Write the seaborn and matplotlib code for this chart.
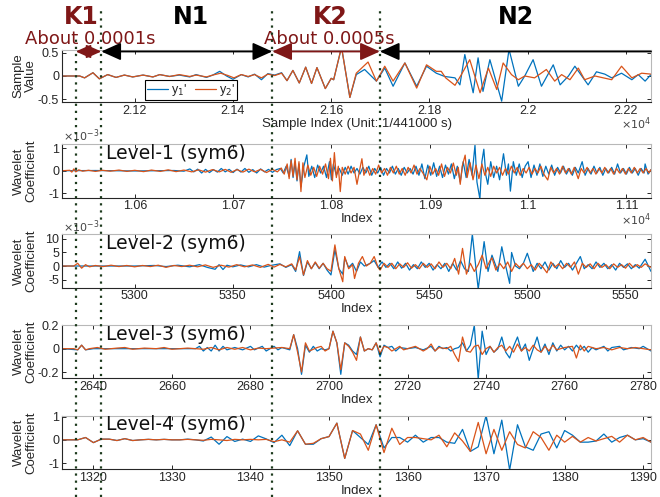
import numpy as np
import pandas as pd
import seaborn as sns
import matplotlib
matplotlib.use("Agg")
import matplotlib.pyplot as plt
from matplotlib.lines import Line2D
from matplotlib.patches import FancyArrowPatch
from matplotlib.ticker import FuncFormatter

sns.set_theme(style="ticks")
plt.rcParams["font.family"] = ["Liberation Sans", "DejaVu Sans"]
plt.rcParams["axes.unicode_minus"] = False

BLUE = "#0072BD"
ORANGE = "#D95319"
DARKRED = "#7f1717"
DOT = "#1d3a1d"

# ---- data: (index, value) ----
# top panel, raw samples
sig_y1 = [(21052, 0), (21088, 0), (21098, -0.04), (21115, 0.07), (21128, -0.06), (21145, 0.03),
          (21162, -0.03), (21179, 0.02), (21196, -0.02), (21217, 0.02), (21237, -0.02), (21251, 0.03),
          (21271, -0.01), (21291, 0.02), (21312, -0.02), (21325, 0.03), (21346, -0.03), (21359, 0.02),
          (21373, 0.10), (21387, 0.0), (21400, -0.07), (21417, 0.03), (21431, -0.02), (21444, 0.04),
          (21458, -0.08), (21471, 0.05), (21485, 0.02), (21499, 0.07), (21510, -0.10), (21522, 0.12),
          (21535, -0.15), (21548, 0.19), (21560, -0.16), (21571, 0.18), (21588, -0.27), (21600, -0.05),
          (21605, -0.08), (21621, 0.62), (21638, -0.46), (21651, 0.03), (21668, 0.14), (21692, -0.11),
          (21709, 0.17), (21726, -0.22), (21750, 0.28), (21774, -0.22), (21794, 0.21), (21814, 0.06),
          (21831, -0.01), (21852, -0.04), (21862, -0.19), (21872, 0.46), (21889, -0.36), (21899, 0.39),
          (21909, -0.33), (21923, 0.35), (21947, -0.54), (21962, 0.57), (21981, -0.22), (21994, 0.0),
          (22011, 0.35), (22028, -0.22), (22052, 0.24), (22066, -0.19), (22083, 0.0), (22096, 0.21),
          (22123, -0.19), (22140, 0.09), (22157, 0.04), (22171, -0.04), (22191, 0.06), (22212, -0.08),
          (22225, 0.03), (22239, -0.11), (22251, 0.03)]
sig_y2 = [(21052, 0), (21088, 0), (21098, -0.04), (21115, 0.07), (21128, -0.06), (21145, 0.03),
          (21162, -0.03), (21179, 0.02), (21196, -0.02), (21217, 0.02), (21237, -0.02), (21251, 0.03),
          (21271, -0.01), (21291, 0.03), (21312, -0.01), (21325, 0.02), (21346, -0.02), (21359, 0.02),
          (21375, 0.06), (21390, 0.01), (21402, -0.04), (21417, 0.03), (21431, -0.01), (21444, 0.03),
          (21458, -0.04), (21471, 0.04), (21485, 0.01), (21499, 0.06), (21510, -0.10), (21522, 0.12),
          (21535, -0.15), (21548, 0.19), (21560, -0.16), (21571, 0.18), (21588, -0.27), (21600, -0.05),
          (21605, -0.08), (21621, 0.62), (21638, -0.46), (21651, 0.06), (21675, 0.30), (21692, -0.11),
          (21709, 0.21), (21726, -0.11), (21750, 0.28), (21774, -0.26), (21794, 0.24), (21814, 0.10),
          (21824, 0.10), (21833, -0.04), (21852, -0.20), (21865, 0.03), (21882, 0.35), (21903, -0.36),
          (21920, 0.17), (21937, -0.29), (21950, 0.28), (21967, 0.03), (21981, -0.08), (21994, 0.0),
          (22014, -0.04), (22038, 0.14), (22055, -0.11), (22069, 0.03), (22086, -0.08), (22103, 0.17),
          (22116, -0.08), (22137, 0.0), (22171, -0.08), (22191, 0.21), (22212, -0.04), (22232, 0.06),
          (22251, 0.04)]

# level-1 detail coefficients (x1e-3)
lv1_y1 = [(10526, 0), (10560, 0.01), (10600, -0.01), (10640, 0.01), (10650, -0.02), (10656, 0.08),
          (10660, -0.05), (10664, 0.07), (10668, -0.10), (10672, 0.06), (10676, -0.08), (10680, 0.05),
          (10684, -0.06), (10688, 0.10), (10692, -0.05), (10696, 0.06), (10700, -0.08), (10704, 0.07),
          (10708, -0.06), (10712, 0.10), (10716, -0.07), (10720, 0.05), (10724, -0.10), (10728, 0.08),
          (10732, -0.05), (10736, 0.06), (10740, -0.07), (10744, 0.05), (10748, 0.10), (10751, -0.10),
          (10754, 0.20), (10757, -0.25), (10759, 0.50), (10761, -0.30), (10763, 0.35), (10765, -0.45),
          (10767, 0.30), (10769, -0.70), (10772, 0.20), (10775, 0.70), (10777, -0.25), (10780, 0.20),
          (10783, -0.30), (10786, 0.25), (10789, -0.10), (10792, 0.20), (10795, -0.30), (10798, 0.40),
          (10800, -0.40), (10802, 0.30), (10805, -0.20), (10808, 0.10), (10811, -0.20), (10814, 0.15),
          (10817, -0.15), (10820, 0.20), (10823, -0.10), (10826, 0.10), (10829, -0.15), (10832, 0.15),
          (10835, -0.10), (10838, 0.20), (10841, -0.20), (10844, 0.10), (10847, -0.10), (10850, 0.15),
          (10853, -0.20), (10856, 0.10), (10859, -0.10), (10862, 0.20), (10865, -0.15), (10868, 0.10),
          (10871, -0.20), (10874, 0.15), (10877, -0.10), (10880, 0.10), (10883, -0.15), (10886, 0.20),
          (10889, -0.20), (10892, 0.30), (10895, -0.35), (10898, 0.25), (10901, -0.20), (10904, 0.35),
          (10907, -0.25), (10910, 0.20), (10913, -0.30), (10916, 0.25), (10919, -0.15), (10922, 0.30),
          (10925, -0.35), (10928, 0.20), (10931, -0.50), (10934, 0.40), (10937, -0.30), (10940, 0.50),
          (10943, -0.20), (10946, 1.13), (10948, -0.50), (10951, -1.25), (10953, 0.40), (10955, 0.95),
          (10957, -0.20), (10959, -0.60), (10962, 0.40), (10965, -0.30), (10968, 0.20), (10971, -0.40),
          (10975, 0.75), (10978, -0.20), (10980, 0.30), (10982, -0.90), (10985, 0.40), (10988, -0.20),
          (10991, 0.30), (10994, -0.30), (10997, 0.20), (11000, 0.40), (11003, -0.30), (11006, 0.25),
          (11009, -0.20), (11012, 0.30), (11015, -0.25), (11018, 0.20), (11021, -0.15), (11024, 0.25),
          (11027, -0.20), (11030, 0.15), (11033, -0.10), (11036, 0.20), (11039, -0.15), (11042, 0.10),
          (11045, -0.20), (11048, 0.15), (11051, -0.10), (11055, 0.40), (11058, -0.20), (11061, 0.10),
          (11064, -0.15), (11067, 0.20), (11070, -0.10), (11073, 0.15), (11076, -0.20), (11079, 0.10),
          (11082, -0.10), (11085, 0.15), (11088, -0.15), (11091, 0.30), (11094, -0.10), (11097, 0.10),
          (11100, -0.15), (11103, 0.15), (11106, -0.10), (11109, 0.10), (11112, -0.20), (11115, 0.10),
          (11118, -0.10), (11119, 0.30), (11122, -0.15), (11125, 0.05)]
lv1_y2 = [(10526, 0), (10534, 0.02), (10536, -0.06), (10538, 0.08), (10540, -0.05), (10543, 0.04),
          (10547, -0.02), (10553, 0.02), (10560, -0.03), (10567, 0.02), (10575, -0.02), (10584, 0.03),
          (10592, -0.03), (10600, 0.02), (10609, -0.04), (10617, 0.03), (10626, -0.03), (10634, 0.04),
          (10642, -0.04), (10650, 0.03), (10658, -0.05), (10665, 0.04), (10672, -0.06), (10679, 0.05),
          (10686, -0.05), (10692, 0.06), (10698, -0.07), (10704, 0.05), (10710, -0.06), (10716, 0.07),
          (10722, -0.05), (10728, 0.06), (10734, -0.08), (10740, 0.06), (10745, -0.05), (10749, 0.12),
          (10752, -0.15), (10755, 0.30), (10757, -0.35), (10759, 0.45), (10761, -0.25), (10763, 0.55),
          (10765, -0.40), (10767, 0.40), (10769, -0.92), (10771, 0.35), (10773, -0.30), (10776, 0.25),
          (10779, -0.20), (10782, 0.15), (10785, -0.25), (10788, 0.20), (10791, -0.15), (10794, 0.30),
          (10797, -0.35), (10799, 0.55), (10801, -0.45), (10803, 0.80), (10805, -0.30), (10807, 0.20),
          (10809, -0.92), (10811, 0.15), (10814, -0.15), (10817, 0.20), (10820, -0.10), (10823, 0.15),
          (10826, -0.60), (10829, 0.10), (10831, 0.53), (10833, -0.20), (10836, 0.15), (10839, -0.20),
          (10842, 0.10), (10845, -0.15), (10848, 0.25), (10851, -0.10), (10854, 0.10), (10857, -0.20),
          (10860, 0.15), (10863, -0.10), (10866, 0.20), (10869, -0.15), (10872, 0.10), (10875, -0.20),
          (10878, 0.15), (10881, -0.10), (10884, 0.25), (10887, -0.15), (10890, 0.10), (10893, -0.10),
          (10897, -0.40), (10900, 0.20), (10903, -0.15), (10906, 0.10), (10909, -0.20), (10912, 0.30),
          (10915, -0.25), (10918, 0.15), (10921, -0.10), (10924, 0.34), (10927, -0.20), (10929, 0.15),
          (10931, -0.60), (10933, 0.20), (10936, 0.69), (10938, -0.30), (10941, 0.35), (10944, -0.40),
          (10947, 0.25), (10950, -0.35), (10953, 0.30), (10956, -0.20), (10959, 0.15), (10962, -0.25),
          (10965, 0.20), (10968, -0.10), (10971, 0.15), (10974, -0.20), (10977, 0.10), (10980, -0.15),
          (10983, 0.20), (10986, -0.10), (10989, 0.15), (10992, -0.20), (10995, 0.10), (10998, -0.10),
          (11001, 0.15), (11004, -0.15), (11007, 0.10), (11010, -0.10), (11013, 0.20), (11016, -0.15),
          (11020, -0.41), (11023, 0.15), (11026, -0.10), (11029, 0.10), (11032, -0.15), (11035, 0.20),
          (11038, -0.10), (11041, 0.10), (11044, -0.15), (11047, 0.15), (11051, -0.35), (11054, 0.10),
          (11057, -0.10), (11060, 0.15), (11063, -0.10), (11066, 0.10), (11069, -0.15), (11072, 0.10),
          (11075, -0.10), (11078, 0.15), (11081, -0.10), (11084, 0.10), (11087, -0.15), (11090, 0.10),
          (11093, -0.10), (11096, 0.10), (11099, -0.15), (11102, 0.10), (11105, -0.10), (11108, 0.15),
          (11111, -0.10), (11114, 0.10), (11117, -0.10), (11120, 0.10), (11123, -0.10), (11125, 0.05)]

# level-2 detail coefficients (x1e-3)
lv2_y1 = [(5263, 0), (5300, 0), (5310, 0.2), (5316, -0.2), (5322, 0.3), (5328, -0.3), (5333, 0.5),
          (5337, -0.5), (5341, -1.2), (5343, 0.5), (5345, -1.3), (5347, 0.3), (5350, -0.3), (5354, 0.4),
          (5358, -0.3), (5362, 0.5), (5366, -0.4), (5370, 0.3), (5374, 0.8), (5377, -0.5), (5380, 0.5),
          (5382, -2.0), (5384, 5.3), (5386, -3.5), (5388, 1.5), (5390, -1.0), (5392, 1.2), (5394, -1.0),
          (5396, 1.0), (5398, -1.5), (5400, -3.3), (5402, 6.0), (5404, -1.0), (5406, -3.0), (5407, 3.0),
          (5409, -0.5), (5411, 1.0), (5413, -2.0), (5415, 1.5), (5417, 0.0), (5420, 1.0), (5422, 2.0),
          (5424, -0.5), (5426, 1.5), (5428, -0.5), (5430, 1.0), (5432, -1.0), (5434, 1.5), (5436, -0.8),
          (5438, 1.0), (5440, -1.5), (5442, 0.5), (5444, -1.0), (5446, 1.5), (5448, -0.5), (5450, 1.0),
          (5452, -1.5), (5454, 0.5), (5456, -1.0), (5458, 1.0), (5460, -2.0), (5462, 1.0), (5464, -1.5),
          (5466, 2.0), (5468, -1.0), (5470, -2.0), (5472, 11.8), (5474, -2.0), (5475, -8.5), (5478, 9.0),
          (5480, -2.0), (5482, 4.0), (5485, -2.0), (5487, 7.1), (5489, 0.0), (5491, -6.4), (5492, 5.0),
          (5494, 0.0), (5496, -1.0), (5498, 1.0), (5500, 4.7), (5503, -2.0), (5505, 1.0), (5507, -1.0),
          (5509, 1.5), (5511, -1.5), (5513, 1.0), (5515, -1.0), (5517, 2.0), (5519, -0.5), (5521, 1.0),
          (5523, -1.5), (5525, 1.0), (5527, 3.5), (5529, -1.0), (5531, 0.5), (5533, -1.0), (5535, 1.5),
          (5537, -0.5), (5539, 1.0), (5541, -1.0), (5543, 0.5), (5545, -1.5), (5547, 1.0), (5549, -0.5),
          (5551, 0.8), (5553, -1.0), (5555, 0.5), (5557, -0.8), (5560, 2.5), (5563, -2.0)]
lv2_y2 = [(5263, 0), (5269, 0), (5271, 1.0), (5273, -0.8), (5275, 0.5), (5277, -0.3), (5280, 0.2),
          (5284, -0.2), (5288, 0.3), (5292, -0.2), (5296, 0.2), (5300, -0.3), (5304, 0.2), (5308, -0.2),
          (5312, 0.3), (5316, -0.5), (5320, 0.2), (5324, -0.2), (5328, 0.3), (5332, -0.3), (5336, 0.4),
          (5340, -0.5), (5344, 0.3), (5348, -0.4), (5352, 0.5), (5356, -0.3), (5360, 0.4), (5364, -0.5),
          (5368, 0.6), (5371, -0.4), (5374, 0.6), (5377, -0.3), (5380, 0.8), (5382, -1.5), (5384, 3.4),
          (5386, -3.3), (5388, 2.0), (5390, -1.0), (5392, 1.5), (5394, -0.8), (5396, 1.0), (5398, -1.0),
          (5400, -1.9), (5402, 7.8), (5404, -1.0), (5406, -5.8), (5407, 3.5), (5409, -1.0), (5411, 0.5),
          (5412, -4.6), (5414, 1.0), (5416, 3.5), (5418, 0.0), (5420, 1.0), (5422, 3.5), (5424, -0.5),
          (5425, -1.5), (5427, 1.0), (5429, -0.5), (5431, 1.0), (5433, -1.0), (5435, 0.8), (5437, -0.5),
          (5439, 1.2), (5441, -0.8), (5443, 0.5), (5445, -1.0), (5447, 1.0), (5449, -0.5), (5451, 0.8),
          (5453, -1.0), (5455, 1.5), (5457, -0.5), (5459, 1.0), (5461, -1.0), (5463, 2.8), (5465, -3.0),
          (5467, 6.5), (5469, -3.0), (5471, 1.0), (5473, -2.0), (5475, 0.5), (5477, 4.0), (5479, -1.0),
          (5481, 2.0), (5482, 3.0), (5484, -1.5), (5486, 1.0), (5488, -1.0), (5490, 1.5), (5492, -2.0),
          (5494, 1.0), (5496, -0.5), (5498, 1.0), (5500, -1.0), (5502, 0.5), (5504, -1.5), (5506, 1.0),
          (5508, -0.5), (5510, -2.5), (5512, 1.5), (5514, -0.5), (5516, 0.8), (5518, -1.0), (5520, 1.0),
          (5522, -0.5), (5524, 1.5), (5526, -3.0), (5528, 1.0), (5530, -0.5), (5532, 0.8), (5534, -1.0),
          (5536, 1.0), (5538, -0.5), (5540, 0.5), (5542, -1.0), (5544, 0.8), (5546, -0.5), (5548, 0.5),
          (5550, -0.8), (5552, 1.0), (5554, -0.5), (5556, 0.5), (5558, -0.5), (5560, 0.8), (5563, -0.5)]

# level-3 detail coefficients
lv3_y1 = [(2632, 0), (2636, -0.01), (2637, 0.03), (2638, -0.01), (2640, 0.0), (2650, 0.0), (2660, 0.0),
          (2666, 0.0), (2667, 0.02), (2668, -0.02), (2669, 0.01), (2670, -0.02), (2671, 0.03), (2672, -0.02),
          (2673, 0.02), (2674, -0.01), (2676, 0.01), (2678, -0.01), (2680, 0.02), (2681, -0.01), (2683, 0.02),
          (2684, -0.02), (2686, 0.02), (2687, -0.01), (2688, 0.01), (2690, -0.01), (2691, 0.12), (2692, 0.0),
          (2693, -0.22), (2694, 0.03), (2695, -0.03), (2696, 0.02), (2697, -0.02), (2698, 0.0), (2699, -0.01),
          (2700, 0.0), (2701, 0.15), (2702, 0.05), (2703, -0.22), (2704, 0.05), (2705, 0.03), (2706, -0.02),
          (2707, -0.05), (2708, 0.10), (2709, -0.02), (2710, 0.0), (2711, -0.01), (2712, 0.05), (2713, -0.07),
          (2714, 0.03), (2715, 0.01), (2716, 0.02), (2717, -0.02), (2718, 0.01), (2720, 0.0), (2722, 0.01),
          (2724, -0.01), (2726, 0.02), (2727, -0.02), (2728, 0.02), (2729, 0.0), (2730, 0.01), (2731, -0.02),
          (2732, 0.0), (2733, 0.01), (2734, 0.05), (2735, -0.02), (2736, 0.03), (2737, 0.20), (2738, -0.26),
          (2739, 0.15), (2740, -0.05), (2741, 0.02), (2742, -0.03), (2743, 0.0), (2744, 0.10), (2745, -0.03),
          (2746, -0.08), (2747, 0.02), (2748, 0.10), (2749, -0.02), (2750, 0.04), (2751, -0.10), (2752, 0.0),
          (2753, 0.10), (2754, -0.03), (2755, 0.04), (2756, -0.05), (2757, 0.05), (2758, -0.02), (2759, 0.03),
          (2760, -0.01), (2761, 0.02), (2762, -0.02), (2763, 0.03), (2764, -0.01), (2765, 0.02), (2766, -0.03),
          (2767, 0.01), (2768, -0.01), (2770, 0.02), (2771, -0.02), (2772, 0.01), (2774, 0.02), (2775, -0.01),
          (2777, 0.01), (2779, 0.0), (2780, 0.02), (2781, 0.0), (2782, -0.02)]
lv3_y2 = [(2632, 0), (2635, 0), (2636, -0.01), (2637, 0.03), (2638, -0.01), (2639, 0.0), (2641, 0.01),
          (2643, -0.005), (2646, 0.005), (2648, 0.01), (2650, -0.005), (2653, 0.005), (2656, 0.0), (2658, 0.01),
          (2660, -0.005), (2664, 0.005), (2668, -0.005), (2670, 0.01), (2672, -0.01), (2674, 0.01), (2676, -0.005),
          (2678, 0.01), (2680, -0.01), (2682, 0.005), (2684, 0.0), (2686, 0.005), (2688, 0.01), (2690, 0.0),
          (2691, 0.12), (2692, -0.03), (2693, -0.20), (2694, 0.05), (2695, -0.02), (2697, 0.01), (2698, 0.02),
          (2699, -0.02), (2700, 0.0), (2701, 0.15), (2702, 0.05), (2703, -0.18), (2704, 0.05), (2705, 0.02),
          (2706, -0.03), (2707, -0.10), (2708, 0.10), (2709, -0.02), (2710, 0.0), (2711, -0.01), (2712, 0.05),
          (2713, -0.04), (2714, 0.02), (2715, 0.01), (2716, -0.02), (2718, 0.02), (2719, -0.01), (2720, 0.0),
          (2722, 0.02), (2724, -0.02), (2725, 0.0), (2726, 0.04), (2727, -0.02), (2728, 0.01), (2730, 0.0),
          (2731, 0.02), (2732, -0.05), (2733, -0.11), (2734, 0.10), (2735, -0.02), (2736, -0.03), (2737, 0.02),
          (2738, 0.03), (2739, -0.05), (2740, 0.0), (2741, 0.02), (2742, -0.03), (2743, 0.01), (2744, 0.03),
          (2745, -0.02), (2746, 0.02), (2747, -0.03), (2748, 0.04), (2749, -0.02), (2750, 0.01), (2751, -0.02),
          (2752, 0.03), (2753, -0.01), (2754, -0.03), (2755, 0.02), (2756, -0.02), (2757, 0.03), (2758, -0.01),
          (2760, 0.01), (2762, 0.02), (2763, -0.08), (2764, 0.03), (2765, -0.02), (2766, 0.02), (2768, 0.0),
          (2770, 0.01), (2772, -0.01), (2774, 0.01), (2776, 0.0), (2778, 0.01), (2780, 0.0), (2782, -0.01)]

# level-4 detail coefficients
lv4_y1 = [(1316, 0), (1317, 0), (1318, 0), (1319, 0.1), (1320, -0.12), (1321, 0.03), (1322, 0.03),
          (1323, -0.03), (1324, 0.05), (1325, -0.03), (1326, 0.0), (1327, 0.02), (1328, 0.0), (1329, 0.02),
          (1330, 0.0), (1331, 0.0), (1332, 0.03), (1333, 0.0), (1334, -0.05), (1335, 0.12), (1336, -0.19),
          (1337, 0.14), (1338, -0.07), (1339, 0.03), (1340, -0.07), (1341, 0.17), (1342, 0.04), (1343, -0.12),
          (1344, 0.2), (1345, -0.25), (1346, 0.39), (1347, -0.19), (1348, -0.19), (1349, 0.05), (1350, 0.14),
          (1351, 0.72), (1352, -0.8), (1353, 0.4), (1354, 0.1), (1355, -0.2), (1356, 0.65), (1357, -0.35),
          (1358, 0.1), (1359, 0.1), (1360, -0.1), (1361, 0.2), (1362, -0.1), (1363, 0.1), (1364, 0.1),
          (1365, -0.1), (1366, -0.15), (1367, 0.45), (1368, -0.5), (1369, -0.3), (1370, 1.05), (1371, -0.6),
          (1372, 0.85), (1373, -1.3), (1374, 0.65), (1375, -0.3), (1376, -0.45), (1377, 0.25), (1378, 0.35),
          (1379, -0.35), (1380, 0.4), (1381, 0.2), (1382, -0.1), (1383, -0.1), (1384, -0.05), (1385, 0.25),
          (1386, -0.1), (1387, 0.1), (1388, 0.2), (1389, 0.0), (1390, 0.05), (1391, -0.1)]
lv4_y2 = [(1316, 0), (1317, 0), (1318, 0), (1319, 0.1), (1320, -0.12), (1321, 0.03), (1322, 0.03),
          (1323, -0.03), (1324, 0.05), (1325, -0.03), (1326, 0.0), (1327, 0.02), (1328, 0.0), (1329, 0.02),
          (1330, 0.0), (1331, 0.0), (1332, 0.02), (1333, 0.0), (1334, -0.02), (1335, 0.02), (1336, 0.0),
          (1337, -0.03), (1338, 0.02), (1339, 0.0), (1340, 0.02), (1341, 0.0), (1342, 0.02), (1343, -0.08),
          (1344, 0.0), (1345, -0.1), (1346, 0.39), (1347, -0.19), (1348, -0.15), (1349, 0.05), (1350, 0.14),
          (1351, 0.72), (1352, -0.8), (1353, 0.4), (1354, 0.25), (1355, -0.45), (1356, 0.65), (1357, -0.55),
          (1358, 0.5), (1359, -0.2), (1360, 0.1), (1361, 0.1), (1362, 0.05), (1363, 0.0), (1364, 0.2),
          (1365, -0.3), (1366, 0.3), (1367, -0.05), (1368, -0.5), (1369, 0.75), (1370, -0.6), (1371, 0.45),
          (1372, -0.45), (1373, 0.35), (1374, -0.2), (1375, -0.35), (1376, 0.35), (1377, 0.1), (1378, -0.45),
          (1379, 0.2), (1380, -0.1), (1381, 0.15), (1382, -0.1), (1383, 0.1), (1384, -0.05), (1385, 0.05),
          (1386, 0.15), (1387, -0.1), (1388, 0.2), (1389, 0.0), (1390, 0.1), (1391, -0.1)]

# segment boundaries K1 | N1 | K2 | N2 (sample index)
bounds = [21080, 21132, 21480, 21699]
segment_names = ["K1", "N1", "K2", "N2"]


def frame(b, o):
    rows = [(x, y, "y1") for x, y in b] + [(x, y, "y2") for x, y in o]
    return pd.DataFrame(rows, columns=["idx", "val", "series"])


W, H = 660, 497
fig = plt.figure(figsize=(6.6, 4.97), dpi=100)


def px_rect(top, bottom, left=62, right=651):
    return [left / W, 1 - bottom / H, (right - left) / W, (bottom - top) / H]


e4 = FuncFormatter(lambda v, p: f"{v / 1e4:g}")
plain = FuncFormatter(lambda v, p: f"{v:g}")

panels = [
    dict(tb=(50, 102), data=(sig_y1, sig_y2), xlim=(21052, 22251), ylim=(-0.558, 0.558),
         xt=range(21200, 22201, 200), yt=[-0.5, 0, 0.5], xf=e4, ylab="Sample\nValue",
         xlab="Sample Index (Unit: 1/441000 s)", title=None, top_exp=None, right_exp=r"$\times10^{4}$"),
    dict(tb=(144, 197.7), data=(lv1_y1, lv1_y2), xlim=(10526, 11125), ylim=(-1.19, 1.18),
         xt=range(10600, 11101, 100), yt=[-1, 0, 1], xf=e4, ylab="Wavelet\nCoefficient",
         xlab="Index", title="Level-1 (sym6)", top_exp=r"$\times10^{-3}$", right_exp=r"$\times10^{4}$"),
    dict(tb=(234.3, 287.7), data=(lv2_y1, lv2_y2), xlim=(5263, 5563), ylim=(-8.0, 11.7),
         xt=range(5300, 5551, 50), yt=[-5, 0, 5, 10], xf=plain, ylab="Wavelet\nCoefficient",
         xlab="Index", title="Level-2 (sym6)", top_exp=r"$\times10^{-3}$", right_exp=None),
    dict(tb=(325, 378.3), data=(lv3_y1, lv3_y2), xlim=(2632, 2782), ylim=(-0.254, 0.203),
         xt=range(2640, 2781, 20), yt=[-0.2, 0, 0.2], xf=plain, ylab="Wavelet\nCoefficient",
         xlab="Index", title="Level-3 (sym6)", top_exp=None, right_exp=None),
    dict(tb=(415.7, 469.3), data=(lv4_y1, lv4_y2), xlim=(1316, 1391), ylim=(-1.27, 1.04),
         xt=range(1320, 1391, 10), yt=[-1, 0, 1], xf=plain, ylab="Wavelet\nCoefficient",
         xlab="Index", title="Level-4 (sym6)", top_exp=None, right_exp=None),
]

axes = []
for p in panels:
    top, bot = p["tb"]
    hpx = bot - top
    ax = fig.add_axes(px_rect(top, bot))
    df = frame(*p["data"])
    sns.lineplot(data=df, x="idx", y="val", hue="series", palette={"y1": BLUE, "y2": ORANGE},
                 estimator=None, linewidth=0.9, legend=False, ax=ax)
    ax.set_xlim(*p["xlim"])
    ax.set_ylim(*p["ylim"])
    ax.set_xticks(list(p["xt"]))
    ax.set_yticks(p["yt"])
    ax.xaxis.set_major_formatter(p["xf"])
    ax.yaxis.set_major_formatter(plain)
    ax.tick_params(direction="in", length=3, width=0.7, top=True, right=True,
                   labelsize=9, pad=2, colors="#262626")
    for s in ["left", "bottom"]:
        ax.spines[s].set_color("#262626")
        ax.spines[s].set_linewidth(0.8)
    for s in ["top", "right"]:
        ax.spines[s].set_color("#b8b8b8")
        ax.spines[s].set_linewidth(0.8)
    ax.set_ylabel(p["ylab"], fontsize=9.5, linespacing=1.0, va="center")
    ax.yaxis.set_label_coords(-0.063, 0.5)
    ax.set_xlabel(p["xlab"], fontsize=9.5, va="center")
    ax.xaxis.set_label_coords(0.5, -21.5 / hpx)
    if p["title"]:
        ax.text(0.0747, 0.83, p["title"], transform=ax.transAxes, fontsize=13.5,
                family="DejaVu Sans", va="center", ha="left", color="#111111")
    if p["top_exp"]:
        ax.text(0.002, 1 + 8 / hpx, p["top_exp"], transform=ax.transAxes, fontsize=8,
                va="center", ha="left", color="#444444")
    if p["right_exp"]:
        ax.text(1.0, -13.5 / hpx, p["right_exp"], transform=ax.transAxes, fontsize=8,
                va="top", ha="right", color="#444444")
    axes.append(ax)

ax1 = axes[0]
handles = [Line2D([], [], color=BLUE, lw=0.9), Line2D([], [], color=ORANGE, lw=0.9)]
leg = ax1.legend(handles, ["y$_1$'", "y$_2$'"], loc="lower left", bbox_to_anchor=(0.141, 0.04),
                 ncol=2, fontsize=9, frameon=True, fancybox=False, edgecolor="black",
                 framealpha=1, borderpad=0.15, handlelength=1.7, columnspacing=0.6,
                 handletextpad=0.25, borderaxespad=0)
leg.get_frame().set_linewidth(0.8)

# boundary x positions in figure fraction
inv = fig.transFigure.inverted()
bx = [inv.transform(ax1.transData.transform((b, 0)))[0] for b in bounds]
right_x = inv.transform(ax1.transAxes.transform((1, 0)))[0]

for i, x in enumerate(bx):
    y_top = 1 - (35 if i == 0 else 10) / H
    fig.add_artist(Line2D([x, x], [0, y_top], transform=fig.transFigure, color=DOT,
                          lw=1.6, linestyle=(0, (1, 2.2)), zorder=6))

# arrows along the top of the first panel
ya = 1 - 51.5 / H
segs = [(bx[0], bx[1], DARKRED, "<|-|>", 9),
        (bx[1], bx[2], "black", "<|-|>", 12),
        (bx[2], bx[3], DARKRED, "<|-|>", 12),
        (bx[3], right_x, "black", "<|-", 12)]
for x0, x1, c, st, ms in segs:
    fig.add_artist(FancyArrowPatch((x0, ya), (x1, ya), transform=fig.transFigure,
                                   arrowstyle=st + ",head_length=1.0,head_width=0.45",
                                   mutation_scale=ms, color=c, lw=1.3,
                                   shrinkA=0, shrinkB=0, zorder=7))

# segment labels
name_px = [81.5, 190.5, 330.5, 515.5]
name_col = [DARKRED, "black", DARKRED, "black"]
for n, xp, c in zip(segment_names, name_px, name_col):
    fig.text(xp / W, 1 - 17.5 / H, n, fontsize=17, fontweight="bold", family="DejaVu Sans",
             color=c, ha="center", va="center")
fig.text(90 / W, 1 - 39.5 / H, "About 0.0001s", fontsize=13, family="DejaVu Sans",
         color=DARKRED, ha="center", va="center")
fig.text(329 / W, 1 - 39.5 / H, "About 0.0005s", fontsize=13, family="DejaVu Sans",
         color=DARKRED, ha="center", va="center")

fig.savefig("out.png", dpi=100)
